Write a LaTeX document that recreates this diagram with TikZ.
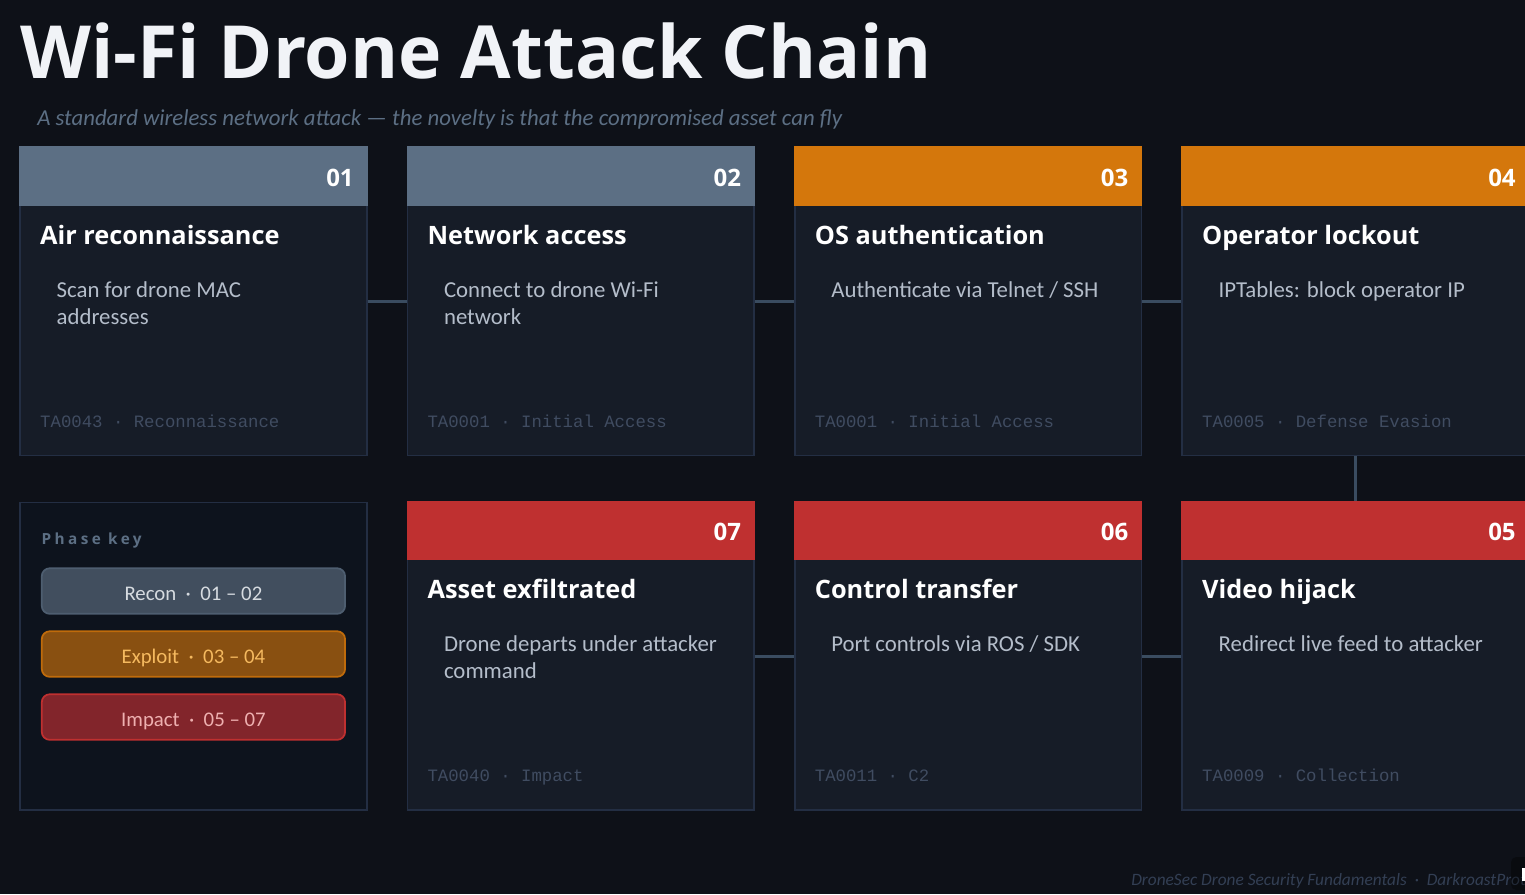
\documentclass[tikz,border=0pt]{standalone}
\usepackage{fontspec}
\setmainfont{Carlito}
\newfontfamily\headfont{Open Sans}[BoldFont={Open Sans Bold}]
\newfontfamily\codefont{Liberation Mono}
\usetikzlibrary{positioning}

\definecolor{pagebg}{HTML}{0E1118}
\definecolor{cardbg}{HTML}{161C27}
\definecolor{cardline}{HTML}{232E43}
\definecolor{keybg}{HTML}{0D131D}
\definecolor{linkcol}{HTML}{3A4C60}
\definecolor{reconcol}{HTML}{5C6F84}
\definecolor{exploitcol}{HTML}{D4770C}
\definecolor{impactcol}{HTML}{BF3030}
\definecolor{descgrey}{HTML}{B4BDCA}
\definecolor{taggrey}{HTML}{404C61}
\definecolor{footgrey}{HTML}{333F54}
\definecolor{titlecol}{HTML}{F1F3F7}
\definecolor{exploittext}{HTML}{F5B95F}
\definecolor{impacttext}{HTML}{EEB0B0}
\definecolor{impactfill}{HTML}{82252B}

\tikzset{
  card/.style={rectangle, draw=cardline, fill=cardbg, line width=1.1pt, inner sep=0pt, minimum width=260pt, minimum height=230.65pt},
  head/.style={rectangle, inner sep=0pt, minimum width=261.1pt, minimum height=44.5pt, anchor=north},
  numtext/.style={anchor=base east, inner sep=0pt, text=white, font=\fontsize{18}{18}\selectfont\headfont\bfseries},
  titletext/.style={anchor=base west, inner sep=0pt, text=white, font=\fontsize{19}{22}\selectfont\headfont\bfseries},
  desctext/.style={anchor=north west, inner sep=0pt, align=left, text=descgrey, font=\fontsize{17.1}{20.25}\selectfont},
  tagtext/.style={anchor=base west, inner sep=0pt, text=taggrey, font=\fontsize{13}{13}\selectfont\codefont},
  link/.style={draw=linkcol, line width=2.4pt},
  pill/.style={rectangle, rounded corners=6pt, line width=1.3pt, inner sep=0pt, minimum width=227.5pt, minimum height=34.2pt, text height=14.5pt, text depth=1pt, font=\fontsize{15.6}{18}\selectfont},
}

\newcommand{\cardparts}[6]{
  \node (#1-head) [head, fill=#6] at ([yshift=0.75pt]#1.north) {};
  \node (#1-num) [numtext] at ([shift={(334.5,39)}]#1.north west) {#2};
  \node (#1-title) [titletext] at ([shift={(20.5,97)}]#1.north west) {#3};
  \node (#1-desc) [desctext] at ([shift={(37,134)}]#1.north west) {#4};
  \node (#1-tag) [tagtext] at ([shift={(20.5,280)}]#1.north west) {#5};
}

\begin{document}
\begin{tikzpicture}[x=0.75pt, y=-0.75pt]
  \useasboundingbox (0,0) rectangle (1525,894);
  \clip (0,0) rectangle (1525,894);
  \fill[pagebg] (0,0) rectangle (1525,894);

  \node (maintitle) [anchor=base west, inner sep=0pt, text=titlecol, font=\fontsize{55}{60}\selectfont\headfont\bfseries] at (20,78) {Wi-Fi Drone Attack Chain};
  \node (subtitle) [anchor=base west, inner sep=0pt, text=reconcol, font=\fontsize{17.1}{22}\selectfont\itshape] at (37,125) {A standard wireless network attack — the novelty is that the compromised asset can fly};

  \node (air) [card] at (193.5,301.5) {};
  \node (network) [card, right=29.4pt of air] {};
  \node (osauth) [card, right=29.4pt of network] {};
  \node (lockout) [card, right=29.4pt of osauth] {};
  \node (video) [card, below=34.4pt of lockout] {};
  \node (control) [card, left=29.4pt of video] {};
  \node (exfil) [card, left=29.4pt of control] {};
  \node (key) [card, fill=keybg, left=29.4pt of exfil] {};

  \draw [link] (air) -- (network);
  \draw [link] (network) -- (osauth);
  \draw [link] (osauth) -- (lockout);
  \draw [link] (lockout) -- (video);
  \draw [link] (video) -- (control);
  \draw [link] (control) -- (exfil);

  \cardparts{air}{01}{Air reconnaissance}{Scan for drone MAC\\addresses}{TA0043 · Reconnaissance}{reconcol}
  \cardparts{network}{02}{Network access}{Connect to drone Wi-Fi\\network}{TA0001 · Initial Access}{reconcol}
  \cardparts{osauth}{03}{OS authentication}{Authenticate via Telnet / SSH}{TA0001 · Initial Access}{exploitcol}
  \cardparts{lockout}{04}{Operator lockout}{IPTables: block operator IP}{TA0005 · Defense Evasion}{exploitcol}
  \cardparts{video}{05}{Video hijack}{Redirect live feed to attacker}{TA0009 · Collection}{impactcol}
  \cardparts{control}{06}{Control transfer}{Port controls via ROS / SDK}{TA0011 · C2}{impactcol}
  \cardparts{exfil}{07}{Asset exfiltrated}{Drone departs under attacker\\command}{TA0040 · Impact}{impactcol}

  \node (keytitle) [anchor=base west, inner sep=0pt, text=reconcol, font=\fontsize{11.5}{14}\selectfont\headfont\bfseries\addfontfeatures{LetterSpace=22}] at ([shift={(22,43)}]key.north west) {Phase key};
  \node (reconpill) [pill, draw=reconcol!85!black, fill=reconcol!65!pagebg, text=white!75!reconcol, anchor=north] at ([shift={(174,65.5)}]key.north west) {Recon ~·~ 01 – 02};
  \node (exploitpill) [pill, draw=exploitcol!90!black, fill=exploitcol!62!pagebg, text=exploittext, below=11.75pt of reconpill] {Exploit ~·~ 03 – 04};
  \node (impactpill) [pill, draw=impactcol, fill=impactfill, text=impacttext, below=11.75pt of exploitpill] {Impact ~·~ 05 – 07};

  \node (footer) [anchor=base west, inner sep=0pt, text=footgrey, font=\fontsize{13}{15}\selectfont\itshape] at (1131,885) {DroneSec Drone Security Fundamentals ~·~ DarkroastProt};
  \fill[black, fill opacity=0.35, rounded corners=4pt] (1511,857) rectangle (1540,890);
  \fill[white] (1522,868) rectangle (1526,881);
\end{tikzpicture}
\end{document}
